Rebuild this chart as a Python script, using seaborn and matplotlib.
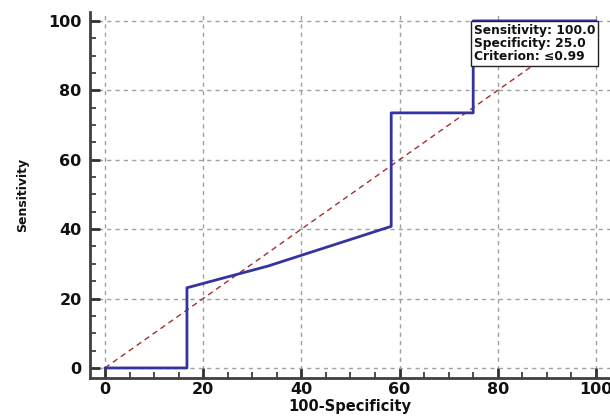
import matplotlib
matplotlib.use("Agg")
import matplotlib.pyplot as plt
from matplotlib.ticker import MultipleLocator
import seaborn as sns
import pandas as pd

# ROC curve points (100-Specificity, Sensitivity)
fpr = [0.0, 16.7, 16.7, 33.3, 58.3, 58.3, 75.0, 75.0, 100.0]
tpr = [0.0, 0.0, 23.1, 29.4, 40.8, 73.5, 73.5, 100.0, 100.0]
diag_x = [0, 100]
diag_y = [0, 100]
ticks = [0, 20, 40, 60, 80, 100]
info_lines = ["Sensitivity: 100.0", "Specificity: 25.0", "Criterion: \u22640.99"]

sns.set_theme(style="white")
plt.rcParams['font.family'] = ['DejaVu Sans']

fig = plt.figure(figsize=(6.10, 4.17), dpi=100)
ax = fig.add_axes([0.1475, 0.0935, 0.852, 0.878])

roc = pd.DataFrame({"x": fpr, "y": tpr})
dg = pd.DataFrame({"x": diag_x, "y": diag_y})

sns.lineplot(data=dg, x="x", y="y", ax=ax, sort=False, color="#a03030",
             linestyle=(0, (4, 3)), linewidth=1.0, estimator=None)
sns.lineplot(data=roc, x="x", y="y", ax=ax, sort=False, color="#3434a0",
             linewidth=2.0, estimator=None)

ax.set_xlim(-3.05, 102.8)
ax.set_ylim(-2.9, 102.6)
ax.set_xticks(ticks)
ax.set_yticks(ticks)
ax.xaxis.set_minor_locator(MultipleLocator(5))
ax.yaxis.set_minor_locator(MultipleLocator(5))
ax.grid(True, which="major", color="#a0a0a0", linestyle=(0, (3, 3)), linewidth=1.0)
ax.set_axisbelow(True)

for s in ["top", "right"]:
    ax.spines[s].set_visible(False)
for s in ["left", "bottom"]:
    ax.spines[s].set_color("#404040")
    ax.spines[s].set_linewidth(2.0)

ax.tick_params(which="major", direction="in", length=7, width=2, color="#303030",
               labelsize=11.5)
ax.tick_params(axis="x", which="major", pad=3)
ax.tick_params(axis="y", which="major", pad=6)
ax.tick_params(which="minor", direction="in", length=4, width=1.2, color="#303030")
ax.tick_params(axis="x", which="both", bottom=True)
ax.tick_params(axis="y", which="both", left=True)
for lab in ax.get_xticklabels() + ax.get_yticklabels():
    lab.set_fontweight("bold")
    lab.set_color("#111111")

ax.set_xlabel("100-Specificity", fontsize=10.5, fontweight="bold", labelpad=1, color="#111111")
ax.set_ylabel("Sensitivity", fontsize=9, fontweight="bold", labelpad=14, color="#111111")

ax.text(75.15, 99.2, "\n".join(info_lines), fontsize=8.8, fontweight="bold",
        va="top", ha="left", color="#111111", linespacing=1.0,
        bbox=dict(boxstyle="square,pad=0.25", facecolor="white", edgecolor="#222222", linewidth=1.0))

fig.savefig("out.png", dpi=100)
